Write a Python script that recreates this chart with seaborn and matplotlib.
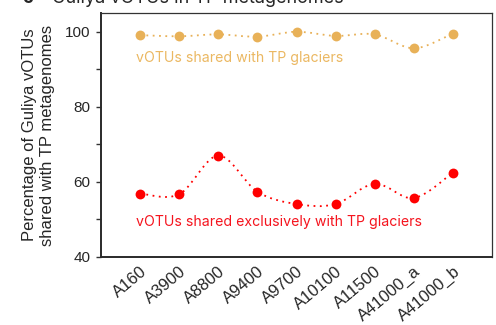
import numpy as np
import pandas as pd
import matplotlib
matplotlib.use("Agg")
import matplotlib.pyplot as plt
from matplotlib.path import Path
from matplotlib.patches import PathPatch
import seaborn as sns

samples = ["A160", "A3900", "A8800", "A9400", "A9700", "A10100", "A11500", "A41000_a", "A41000_b"]
shared_tp = [99.1, 98.8, 99.3, 98.7, 100.0, 98.9, 99.3, 95.6, 99.5]
shared_exclusive = [56.9, 56.7, 67.0, 57.4, 54.1, 54.1, 59.5, 55.7, 62.5]
yticks_major = [40, 60, 80, 100]
yticks_minor = [50, 70, 90]

yellow = "#E8B158"
red = "#FF0000"

sns.set_theme(style="white")
plt.rcParams["font.family"] = ["Liberation Sans", "DejaVu Sans"]

df = pd.DataFrame({"sample": samples, "x": np.arange(len(samples)),
                   "tp": shared_tp, "excl": shared_exclusive})

fig = plt.figure(figsize=(4.96, 3.25), dpi=100)
ax = fig.add_axes([101/496, 1-257/325, (492-101)/496, (257-13)/325])


def smooth_path(xs, ys):
    xs = np.asarray(xs, float)
    ys = np.asarray(ys, float)
    n = len(xs)
    px = np.concatenate([[xs[0]], xs, [xs[-1]]])
    py = np.concatenate([[ys[0]], ys, [ys[-1]]])
    verts = [(xs[0], ys[0])]
    codes = [Path.MOVETO]
    for i in range(n - 1):
        p0 = np.array([px[i], py[i]])
        p1 = np.array([px[i+1], py[i+1]])
        p2 = np.array([px[i+2], py[i+2]])
        p3 = np.array([px[i+3], py[i+3]])
        c1 = p1 + (p2 - p0) / 6.0
        c2 = p2 - (p3 - p1) / 6.0
        verts += [tuple(c1), tuple(c2), tuple(p2)]
        codes += [Path.CURVE4] * 3
    return Path(verts, codes)


for col, color in [("tp", yellow), ("excl", red)]:
    patch = PathPatch(smooth_path(df["x"], df[col]), facecolor="none",
                      edgecolor=color, linestyle=(0, (1, 2.5)), linewidth=1.3,
                      transform=ax.transData, zorder=2)
    ax.add_patch(patch)
    sns.scatterplot(data=df, x="x", y=col, color=color, s=50, edgecolor=color,
                    linewidth=0, ax=ax, zorder=3, legend=False)

ax.set_xlim(-1, 9)
ax.set_ylim(40, 105)
ax.set_xticks(df["x"])
ax.set_xticklabels(samples, rotation=40, ha="right", rotation_mode="anchor",
                   fontsize=12)
ax.set_yticks(yticks_major)
ax.set_yticks(yticks_minor, minor=True)
ax.set_yticklabels([str(v) for v in yticks_major], fontsize=11)
ax.tick_params(axis="y", which="both", direction="out", length=3.5, width=1,
               left=True, color="#333333", pad=4)
ax.tick_params(axis="x", which="both", length=0, pad=5)
ax.set_xlabel("")
ax.set_ylabel("Percentage of Guliya vOTUs\nshared with TP metagenomes",
              fontsize=12, labelpad=7, linespacing=1.3)

for side in ["left", "bottom"]:
    ax.spines[side].set_linewidth(1.4)
    ax.spines[side].set_color("#2a2a2a")
for side in ["top", "right"]:
    ax.spines[side].set_linewidth(0.9)
    ax.spines[side].set_color("#333333")

ax.text(-0.1, 93, "vOTUs shared with TP glaciers", color="#EBB862",
        fontsize=10.2, va="center", ha="left", family=["Inter", "DejaVu Sans"])
ax.text(-0.1, 49.2, "vOTUs shared exclusively with TP glaciers", color="#F5141E",
        fontsize=10.2, va="center", ha="left", family=["Inter", "DejaVu Sans"])

fig.text(22/496, 1-3/325, "c", fontsize=13, fontweight="bold", va="baseline",
         family=["Inter", "DejaVu Sans"])
fig.text(52/496, 1-3/325, "Guliya vOTUs in TP metagenomes", fontsize=13,
         va="baseline", family=["Inter", "DejaVu Sans"])

fig.savefig("out.png", dpi=100)
